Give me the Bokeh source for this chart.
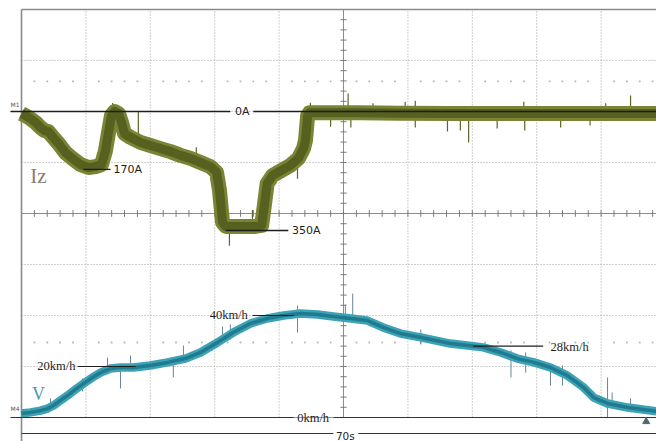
import numpy as np
from bokeh.plotting import figure
from bokeh.models import Range1d
from bokeh.core.properties import value
from bokeh.embed import file_html
from bokeh.resources import INLINE

# ---- data ----
# time in seconds (7 s / division, 70 s across the screen)
cur_t = [0, 0.43, 0.98, 1.52, 2.07, 2.5, 2.93, 3.37, 4.02, 4.78, 5.54, 6.41, 7.28, 8.04,
         8.70, 9.13, 9.46, 9.78, 10.11, 10.54, 10.87, 11.2, 11.85, 12.93, 14.02, 15.11,
         16.2, 17.28, 18.37, 19.46, 20.54, 21.2, 21.52, 21.85, 22.2, 23.8, 25.4, 26.1,
         26.4, 26.7, 27.3, 28.2, 29.2, 30.1, 30.65, 30.87, 31.1, 31.3, 33.6, 36.8, 41.2,
         46.6, 52.1, 57.5, 62.9, 69.0]
# current Iz in amps (150 A / division, drawn downward)
cur_a = [6, 12, 21, 32, 47, 56, 59, 74, 94, 121, 138, 156, 165, 162,
         156, 115, 62, 12, 0, 6, 32, 65, 76, 91, 100, 109,
         118, 129, 138, 150, 162, 179, 232, 326, 338, 338, 338, 335,
         276, 212, 188, 174, 159, 138, 109, 85, 12, 4, 4, 4, 5,
         6, 6, 6, 6, 6]
# current noise spikes: time, from, to (amps)
cur_spk_t = [9.9, 12.7, 19.0, 22.6, 25.1, 30.0, 31.4, 33.6, 35.5, 35.8, 38.2, 41.7,
             42.8, 42.8, 46.3, 47.7, 48.6, 51.7, 54.6, 54.7, 58.6, 61.8, 63.5, 66.2]
cur_spk_a0 = [-25, 0, 105, 330, 290, 160, 5, 5, 0, 15, 5, 5,
              5, 5, 10, 10, 15, 10, 5, 10, 10, 10, 5, 5]
cur_spk_a1 = [20, 85, 150, 395, 330, 198, -26, 45, -53, 47, -24, -29,
              -32, 47, 59, 56, 91, 50, -29, 56, 47, 41, -24, -47]

spd_t = [0, 0.98, 2.07, 2.83, 3.48, 4.24, 5.0, 5.87, 6.74, 7.72, 8.59, 9.67, 10.76,
         12.17, 14.0, 15.87, 17.8, 19.46, 21.3, 23.0, 24.9, 26.7, 28.5, 30.3, 32.2,
         33.9, 35.8, 37.6, 39.3, 41.2, 43.4, 46.6, 50.2, 52.1, 53.9, 55.7, 57.5,
         59.3, 61.1, 62.2, 63.7, 65.9, 69.0]
# speed V in km/h (20 km/h / division)
spd_v = [1.6, 2.0, 2.7, 3.5, 4.7, 6.7, 8.6, 11.0, 13.3, 15.7, 17.6, 19.2, 19.6,
         19.6, 20.4, 21.6, 23.1, 25.5, 29.4, 33.3, 36.9, 38.8, 40.0, 40.8, 40.4,
         39.6, 38.8, 38.0, 35.3, 32.9, 31.4, 29.0, 27.5, 25.5, 23.1, 21.6, 19.6,
         16.5, 11.8, 7.8, 5.5, 3.9, 2.4]
spd_spk_t = [3.15, 6.63, 9.35, 10.76, 11.85, 16.5, 17.6, 21.85, 22.7, 30.0, 35.2, 36.0,
             43.4, 48.6, 53.2, 54.8, 57.5, 58.8, 63.7, 64.2, 66.2]
spd_spk_v0 = [3.5, 10.2, 19.6, 11.4, 19.6, 15.7, 22.7, 29.4, 30.6, 33.3, 39.2, 38.4,
              28.6, 30.2, 15.7, 17.6, 12.5, 12.5, 0, 4.7, 2.0]
spd_spk_v1 = [7.5, 15.3, 23.5, 19.6, 24.3, 23.5, 28.2, 35.7, 36.5, 43.9, 44.3, 48.6,
              34.5, 30.2, 26.3, 25.5, 21.2, 20.4, 15.7, 9.8, 7.5]

cur_marks = [0, 170, 350]
spd_marks = [0, 20, 40, 28]

# ---- figure: x in seconds, y in screen divisions ----
S_PER_DIV = 7.0
p = figure(width=656, height=441, output_backend="svg", toolbar_location=None,
           x_range=Range1d(-2.283, 69.02), y_range=Range1d(-0.4706, 8.176),
           x_axis_location=None, y_axis_location=None, min_border=0,
           outline_line_color=None, background_fill_color="white",
           border_fill_color="white")
p.xgrid.visible = False
p.ygrid.visible = False
p.extra_y_ranges = {"amps": Range1d(970.6, -326.5), "kmh": Range1d(-9.41, 163.5)}

GRID = "#a0a0a0"
# dotted grid
vx = [k * S_PER_DIV for k in range(1, 10) if k != 5]
p.segment(x0=vx, y0=[0] * len(vx), x1=vx, y1=[8] * len(vx), line_color=GRID,
          line_width=1, line_dash="1 2")
hy = [k for k in range(1, 8) if k != 4]
p.segment(x0=[0] * len(hy), y0=hy, x1=[70] * len(hy), y1=hy, line_color=GRID,
          line_width=1, line_dash="1 2")
# centre lines with ticks
p.segment(x0=[35], y0=[0], x1=[35], y1=[8], line_color="#8c8c8c", line_width=1)
p.segment(x0=[0], y0=[4], x1=[70], y1=[4], line_color="#8c8c8c", line_width=1)
tx = np.arange(1, 50) * 1.4
p.segment(x0=tx, y0=4 - 0.065, x1=tx, y1=4 + 0.065, line_color="#7a7a7a", line_width=1)
ty = np.arange(1, 40) * 0.2
p.segment(x0=35 - 0.33, y0=ty, x1=35 + 0.33, y1=ty, line_color="#7a7a7a", line_width=1)
# faint cursor dot rows
dx = [k * 1.4 for k in range(1, 50) if k % 5 != 0]
for yy in (6.59, 1.47):
    p.scatter(x=dx, y=[yy] * len(dx), size=1.8, marker="square", color="#b8b8b8",
              line_color=None)
# border
p.segment(x0=[0], y0=[-0.48], x1=[0], y1=[8], line_color="#8a8a8a", line_width=1.6)
p.segment(x0=[0], y0=[8], x1=[70], y1=[8], line_color="#8a8a8a", line_width=1.6)
p.segment(x0=[0], y0=[0], x1=[70], y1=[0], line_color="#9a9a9a", line_width=1.2)

# ---- current trace ----
p.segment(x0=cur_spk_t, y0=cur_spk_a0, x1=cur_spk_t, y1=cur_spk_a1, y_range_name="amps",
          line_color="#5d6622", line_width=1.2)
p.line(cur_t, cur_a, y_range_name="amps", line_color="#7b8334", line_width=15,
       line_join="round")
p.line(cur_t, cur_a, y_range_name="amps", line_color="#56611f", line_width=9,
       line_join="round")

# ---- speed trace ----
p.segment(x0=spd_spk_t, y0=spd_spk_v0, x1=spd_spk_t, y1=spd_spk_v1, y_range_name="kmh",
          line_color="#6a8492", line_width=1)
p.line(spd_t, spd_v, y_range_name="kmh", line_color="#3ea2b6", line_width=8.5,
       line_join="round")
p.line(spd_t, spd_v, y_range_name="kmh", line_color="#1f7b8d", line_width=3.5,
       line_join="round")

BLK = "#1e1e1e"
SANS = value("DejaVu Sans")
SERIF = value("Liberation Serif")

# ---- current reference marks ----
p.segment(x0=[-1.2, 25.2], y0=[cur_marks[0]] * 2, x1=[22.7, 70], y1=[cur_marks[0]] * 2,
          y_range_name="amps", line_color=BLK, line_width=1.3)
p.text(x=[24.0], y=[cur_marks[0]], text=["0A"], y_range_name="amps", text_font=SANS,
       text_font_size="11px", text_align="center", text_baseline="middle",
       text_color=BLK)
p.segment(x0=[6.74], y0=[cur_marks[1]], x1=[9.67], y1=[cur_marks[1]],
          y_range_name="amps", line_color=BLK, line_width=1.3)
p.text(x=[10.0], y=[cur_marks[1]], text=["170A"], y_range_name="amps", text_font=SANS,
       text_font_size="11px", text_align="left", text_baseline="middle", text_color=BLK)
p.segment(x0=[22.2], y0=[cur_marks[2]], x1=[29.0], y1=[cur_marks[2]],
          y_range_name="amps", line_color=BLK, line_width=1.3)
p.text(x=[29.4], y=[cur_marks[2]], text=["350A"], y_range_name="amps", text_font=SANS,
       text_font_size="11px", text_align="left", text_baseline="middle", text_color=BLK)

# ---- speed reference marks ----
p.segment(x0=[-1.2, 33.9], y0=[spd_marks[0]] * 2, x1=[29.6, 70], y1=[spd_marks[0]] * 2,
          y_range_name="kmh", line_color="#333333", line_width=1.1)
p.text(x=[31.7], y=[spd_marks[0]], text=["0km/h"], y_range_name="kmh", text_font=SERIF,
       text_font_size="12.5px", text_align="center", text_baseline="middle",
       text_color=BLK)
p.segment(x0=[6.09], y0=[spd_marks[1]], x1=[12.4], y1=[spd_marks[1]],
          y_range_name="kmh", line_color=BLK, line_width=1.2)
p.text(x=[5.87], y=[spd_marks[1]], text=["20km/h"], y_range_name="kmh", text_font=SERIF,
       text_font_size="12.5px", text_align="right", text_baseline="middle",
       text_color=BLK)
p.segment(x0=[25.1], y0=[spd_marks[2]], x1=[29.6], y1=[spd_marks[2]],
          y_range_name="kmh", line_color=BLK, line_width=1.2)
p.text(x=[24.6], y=[spd_marks[2]], text=["40km/h"], y_range_name="kmh", text_font=SERIF,
       text_font_size="12.5px", text_align="right", text_baseline="middle",
       text_color=BLK)
p.segment(x0=[49.1], y0=[spd_marks[3]], x1=[56.7], y1=[spd_marks[3]],
          y_range_name="kmh", line_color=BLK, line_width=1.2)
p.text(x=[57.5], y=[spd_marks[3] - 0.5], text=["28km/h"], y_range_name="kmh",
       text_font=SERIF, text_font_size="12.5px", text_align="left",
       text_baseline="middle", text_color=BLK)

# ---- channel names and markers ----
p.text(x=[1.85], y=[4.73], text=["Iz"], text_font=SERIF, text_font_size="21px",
       text_align="center", text_baseline="middle", text_color="#8a7d72")
p.text(x=[1.85], y=[0.47], text=["V"], text_font=SERIF, text_font_size="18px",
       text_align="center", text_baseline="middle", text_color="#4b9bb0")
p.text(x=[-1.2], y=[6.14], text=["M1"], text_font=SANS, text_font_size="6px",
       text_align="left", text_baseline="middle", text_color="#555555")
p.text(x=[-1.2], y=[0.17], text=["M4"], text_font=SANS, text_font_size="6px",
       text_align="left", text_baseline="middle", text_color="#555555")
p.scatter(x=[67.9], y=[-0.08], marker="triangle", size=7, color="#4d6a72")

# ---- time span bar ----
p.segment(x0=[0, 36.6], y0=[-0.314] * 2, x1=[33.9, 70], y1=[-0.314] * 2,
          line_color="#333333", line_width=1.2)
p.text(x=[35.2], y=[-0.36], text=["70s"], text_font=SANS, text_font_size="10.5px",
       text_align="center", text_baseline="middle", text_color=BLK)

open("out.html", "w").write(file_html(p, INLINE))
